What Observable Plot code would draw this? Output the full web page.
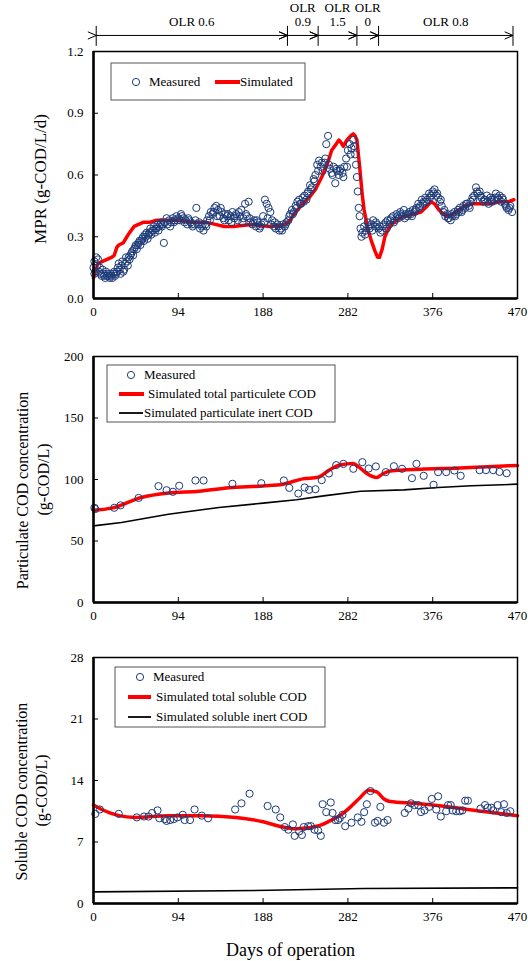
<!DOCTYPE html>
<html><head><meta charset="utf-8">
<script src="https://cdn.jsdelivr.net/npm/d3@7"></script>
<script src="https://cdn.jsdelivr.net/npm/@observablehq/plot@0.6"></script>
<style>
body{margin:0;background:#fff}
#c{width:528px;line-height:0;font-size:0}
#c svg{display:block}
</style>
</head><body><div id="c"></div>
<script>
// ---------- data ----------
const xTicks = [0, 94, 188, 282, 376, 470];
const olrBounds = [3, 215, 249, 292, 316, 465];
const olrLabels = ["OLR 0.6", "OLR\n0.9", "OLR\n1.5", "OLR\n0", "OLR 0.8"];

const mprTicks = [0, 0.3, 0.6, 0.9, 1.2];
const mprMeasured = [
 [0,.15],[1,.18],[1,.12],[2,.13],[3,.20],[4,.16],[5,.19],[6,.13],[7,.15],[8,.12],[9,.11],[10,.14],[11,.12],[12,.11],[13,.10],[14,.13],[15,.11],
 [16,.12],[17,.11],[18,.10],[19,.12],[20,.11],[21,.10],[22,.12],[23,.13],[24,.11],[25,.12],
 [26,.13],[27,.15],[28,.17],[29,.14],[30,.12],[31,.16],[32,.18],[33,.13],[34,.14],[35,.17],[36,.20],[37,.18],[38,.16],[39,.20],[40,.19],[41,.21],
 [42,.22],[43,.23],[44,.21],[45,.24],[46,.25],[47,.26],[48,.24],[49,.26],[50,.27],[51,.28],[52,.26],[53,.28],[54,.29],[55,.30],[56,.28],[57,.31],
 [58,.30],[59,.32],[60,.29],[61,.31],[62,.32],[63,.34],[64,.31],[65,.33],[66,.33],[67,.35],[68,.32],[69,.34],[70,.34],[71,.36],[72,.33],[73,.35],
 [74,.36],[75,.37],[76,.35],[77,.36],[78,.27],[79,.37],[81,.39],[82,.36],[84,.38],[85,.35],[86,.37],[88,.39],[89,.37],
 [90,.38],[92,.40],[93,.38],[94,.39],[96,.38],[97,.41],[98,.40],[100,.39],[101,.37],[102,.38],[104,.36],[105,.39],[106,.38],[108,.37],[109,.36],
 [110,.35],[112,.36],[113,.38],[114,.44],[116,.36],[117,.37],[118,.34],
 [120,.35],[121,.36],[122,.33],[124,.36],[125,.35],[126,.38],[128,.40],[129,.38],[130,.42],[132,.41],[133,.42],[134,.44],[136,.45],[137,.40],
 [138,.43],[140,.40],[141,.44],[142,.42],[144,.39],[145,.38],[146,.41],
 [148,.40],[149,.41],[150,.38],[152,.40],[153,.37],[154,.42],[156,.39],[157,.40],[158,.41],[160,.38],[161,.42],[162,.40],[164,.43],[165,.37],
 [166,.39],[168,.46],[169,.41],[170,.40],[172,.47],[173,.39],[174,.37],
 [176,.36],[177,.37],[178,.38],[180,.35],[181,.38],[182,.37],[184,.34],[185,.35],[186,.36],[188,.40],[189,.37],[190,.48],[192,.46],[193,.39],
 [194,.44],[196,.42],[197,.36],[198,.38],[200,.35],[201,.37],[202,.34],
 [204,.36],[205,.35],[206,.33],[208,.34],[209,.33],[210,.36],[212,.35],[213,.36],[214,.37],[216,.38],[217,.40],[218,.41],[220,.43],[221,.41],
 [222,.42],[224,.45],[225,.44],[226,.47],[228,.48],[229,.46],[230,.46],
 [232,.49],[233,.47],[234,.50],[236,.48],[237,.51],[238,.52],[240,.55],[241,.53],[242,.54],[244,.58],[245,.57],[246,.60],[248,.65],[249,.62],
 [250,.67],[252,.64],[253,.66],[254,.62],[256,.66],[257,.68],[258,.75],
 [260,.79],[261,.65],[262,.63],[264,.61],[265,.60],[266,.64],[268,.56],[269,.63],[270,.62],[272,.60],[273,.62],[274,.63],[276,.61],[277,.59],
 [278,.64],[280,.68],[281,.64],[282,.72],[284,.75],[285,.70],[286,.73],
 [288,.77],[289,.74],[290,.70],[291,.65],[292,.59],[293,.52],[294,.44],[295,.40],[296,.34],[297,.30],[298,.32],
 [300,.35],[301,.31],[302,.33],[304,.37],[305,.35],[306,.34],[308,.36],[309,.33],[310,.38],[312,.35],[313,.37],[314,.36],[316,.34],[317,.35],
 [318,.32],[320,.33],[321,.35],[322,.36],[324,.37],[325,.34],[326,.38],
 [328,.36],[329,.38],[330,.39],[332,.40],[333,.37],[334,.38],[336,.41],[337,.40],[338,.39],[340,.42],[341,.41],[342,.40],[344,.43],[345,.39],
 [346,.41],[348,.40],[349,.41],[350,.42],[352,.41],[353,.40],[354,.43],
 [356,.42],[357,.43],[358,.44],[360,.46],[361,.44],[362,.45],[364,.48],[365,.46],[366,.47],[368,.49],[369,.47],[370,.48],[372,.51],[373,.49],
 [374,.50],[376,.52],[377,.51],[378,.53],[380,.50],[381,.51],[382,.49],
 [384,.47],[385,.48],[386,.45],[388,.42],[389,.43],[390,.40],[392,.41],[393,.39],[394,.39],[396,.38],[397,.41],[398,.40],[400,.42],[401,.40],
 [402,.41],[404,.43],[405,.42],[406,.44],[408,.42],[409,.43],[410,.45],
 [412,.44],[413,.46],[414,.46],[416,.45],[417,.44],[418,.47],[420,.49],[421,.48],[422,.50],[424,.54],[425,.52],[426,.51],[428,.52],[429,.50],
 [430,.49],[432,.47],[433,.48],[434,.48],[436,.50],[437,.47],[438,.46],
 [440,.49],[441,.48],[442,.47],[444,.48],[445,.49],[446,.51],[448,.49],[449,.48],[450,.50],[452,.47],[453,.49],[454,.48],[456,.46],[457,.45],
 [458,.44],[460,.43],[461,.44],[462,.45],[464,.42]
];
const mprSimulated = [
 [0,.10],[2,.13],[5,.17],[10,.18],[15,.19],[20,.20],[23,.21],[26,.25],[28,.26],[33,.27],[37,.30],[40,.32],[45,.35],[50,.36],[55,.37],[62,.37],
 [70,.38],[80,.38],[94,.38],[110,.37],[125,.37],[135,.36],[145,.35],[155,.35],[165,.355],[175,.36],[185,.355],[195,.35],[205,.355],[212,.36],
 [218,.38],[224,.42],[230,.45],[239,.49],[246,.53],[253,.59],[259,.65],[264,.72],[269,.75],[272,.77],[274,.76],[277,.74],[281,.77],[285,.79],
 [288,.80],[290,.79],[292,.77],[295,.64],[298,.50],[300,.43],[304,.34],[308,.28],[312,.23],[315,.20],[317,.20],[320,.24],[323,.30],[326,.33],
 [330,.36],[336,.38],[345,.40],[355,.41],[363,.42],[370,.45],[374,.47],[378,.46],[383,.43],[388,.41],[392,.40],[398,.41],[405,.43],[412,.45],
 [420,.46],[431,.46],[440,.46],[450,.47],[460,.47],[466,.48]
];

const pcodTicks = [0, 50, 100, 150, 200];
const pcodMeasured = [
 [1,77],[2,76],[23,77],[30,79],[50,85],[72,94.6],[81,91.3],[88,90],[95,94.9],[113,99.2],[122,99.2],[154,96.5],[186,97],[211,99.2],[217,93.2],
 [227,88.6],[234,93.5],[239,91.6],[246,92.1],[253,99.5],[261,104.9],[269,111.7],[277,112.7],[288,108.7],[298,114.1],[305,108.9],[313,110.6],
 [324,106],[333,110.8],[342,108.7],[353,101.1],[358,112.7],[366,103],[377,95.7],[382,106],[391,106],[400,107.3],[407,103],[428,107.6],[435,107.6],
 [443,107.6],[450,106.2],[458,105.1]
];
const pcodTotal = [
 [0,75],[20,76.7],[53,85.4],[83,89],[117,90.5],[150,93.3],[188,94.8],[210,96.2],[232,100.5],[249,101.8],[262,108],[273,111.8],[288,113],[294,110.3],
 [303,104.9],[314,101.6],[320,104.3],[329,107],[363,108.4],[400,109.2],[437,110.3],[470,111.4]
];
const pcodInert = [
 [0,62.3],[31,65],[83,71.8],[139,77.2],[188,80.8],[225,83.5],[255,86.7],[296,90.5],[344,91.6],[382,93.5],[419,94.9],[470,96.2]
];

const scodTicks = [0, 7, 14, 21, 28];
const scodMeasured = [
 [2,10.2],[7,10.7],[28,10.2],[48,9.8],[56,9.9],[61,9.9],[65,10.3],[71,10.6],[73,9.7],[79,9.6],[81,9.4],[85,9.5],[89,9.6],[93,9.8],[99,10.1],
 [101,9.5],[107,9.5],[112,10.7],[120,10.0],[127,9.7],[157,10.7],[164,11.4],[173,12.5],[193,11.1],[202,10.7],[207,9.8],[212,8.7],[216,8.4],
 [221,9.0],[223,7.7],[228,8.2],[231,7.8],[233,8.7],[238,8.8],[241,8.8],[245,8.4],[249,8.3],[252,7.7],[254,11.3],[258,10.4],[263,11.5],[265,10.3],
 [268,9.5],[271,9.5],[273,9.7],[276,10.1],[279,8.8],[286,9.2],[293,9.8],[297,9.3],[300,10.4],[303,11.3],[307,12.8],[312,9.2],[315,9.4],[318,11.0],
 [322,9.2],[326,9.5],[345,10.3],[349,10.8],[352,11.4],[356,11.2],[360,11.2],[363,10.4],[367,10.6],[372,11.0],[375,11.9],[380,10.7],[382,12.2],
 [385,9.9],[391,10.5],[393,11.2],[396,11.2],[398,10.6],[402,10.5],[406,10.5],[409,10.6],[412,11.7],[415,11.7],[429,10.8],[434,11.2],[437,10.9],
 [441,10.9],[443,10.6],[448,11.2],[452,10.4],[455,11.3],[458,10.3],[462,10.5]
];
const scodTotal = [
 [0,11.2],[9,10.7],[46,9.8],[83,10.0],[120,10.0],[158,9.8],[188,9.3],[210,8.7],[225,8.5],[251,8.9],[262,9.4],[273,10.0],[285,11.0],[296,12.1],
 [305,12.9],[314,12.7],[322,11.9],[329,11.6],[355,11.4],[393,11.0],[430,10.5],[470,10.0]
];
const scodInert = [[0,1.32],[195,1.5],[300,1.7],[470,1.78]];

// ---------- styling ----------
const FONT = "Liberation Serif, Times New Roman, serif";
const NAVY = "#1c3a78";
const RED = "#ff0000";

function panel({height, marginTop, marginBottom, yDomain, yTicks, yFormat, marks}) {
  return Plot.plot({
    width: 528, height, marginLeft: 93, marginRight: 11, marginTop, marginBottom,
    x: {domain: [0, 470]},
    y: {domain: yDomain},
    style: {fontFamily: FONT, fontSize: "13px", background: "#fff", color: "#000", overflow: "visible"},
    marks: [
      ...marks,
      Plot.axisX(xTicks, {tickSize: 0, tickPadding: 8, label: null, fontSize: 13}),
      Plot.axisX(xTicks, {tickSize: -5, text: null, label: null}),
      Plot.axisY(yTicks, {tickSize: 0, tickPadding: 10, tickFormat: yFormat, label: null, fontSize: 13}),
      Plot.axisY(yTicks, {tickSize: -5, text: null, label: null}),
      Plot.frame({stroke: "#000", strokeWidth: 1.5}),
      Plot.ruleX([0], {stroke: "#000", strokeWidth: 2.5}),
      Plot.ruleY([yDomain[0]], {stroke: "#000", strokeWidth: 2.5})
    ]
  });
}

const X = d => d[0], Y = d => d[1];
const segments = olrLabels.map((t, i) => ({x1: olrBounds[i], x2: olrBounds[i + 1], label: t}));
const vTitle = (t, dx, dy, size) => Plot.text([t], {frameAnchor: "left", textAnchor: "middle", lineAnchor: "middle", rotate: -90, dx, dy, fontSize: size, fill: "#000"});

const p1 = panel({
  height: 330, marginTop: 51, marginBottom: 32, yDomain: [0, 1.2], yTicks: mprTicks, yFormat: d3.format(".1f"),
  marks: [
    Plot.line(mprSimulated, {x: X, y: Y, stroke: RED, strokeWidth: 3.5}),
    Plot.dot(mprMeasured, {x: X, y: Y, r: 3.6, stroke: NAVY, strokeWidth: 1, fill: "none"}),
    Plot.ruleX(olrBounds, {y1: 1.225, y2: 1.322, stroke: "#000", strokeWidth: 1}),
    Plot.link(segments, {x1: "x1", x2: "x2", y1: 1.278, y2: 1.278, stroke: "#000", strokeWidth: 1, markerStart: "arrow", markerEnd: "arrow"}),
    Plot.text(segments, {x: d => (d.x1 + d.x2) / 2, y: 1.325, text: "label", lineAnchor: "bottom", lineHeight: 1.05, fontSize: 13, fill: "#000"}),
    vTitle("MPR (g-COD/L/d)", -53, 4, 17)
  ]
});

const p2 = panel({
  height: 300, marginTop: 26, marginBottom: 28, yDomain: [0, 200], yTicks: pcodTicks,
  marks: [
    Plot.line(pcodInert, {x: X, y: Y, stroke: "#000", strokeWidth: 1.6}),
    Plot.line(pcodTotal, {x: X, y: Y, stroke: RED, strokeWidth: 3.5, curve: "monotone-x"}),
    Plot.dot(pcodMeasured, {x: X, y: Y, r: 3.6, stroke: NAVY, strokeWidth: 1, fill: "none"}),
    vTitle("Particulate COD concentration", -71, 11, 16),
    vTitle("(g-COD/L)", -50, 0, 16)
  ]
});

const p3 = panel({
  height: 331, marginTop: 27, marginBottom: 58, yDomain: [0, 28], yTicks: scodTicks,
  marks: [
    Plot.line(scodInert, {x: X, y: Y, stroke: "#000", strokeWidth: 1.6}),
    Plot.line(scodTotal, {x: X, y: Y, stroke: RED, strokeWidth: 3.5, curve: "monotone-x"}),
    Plot.dot(scodMeasured, {x: X, y: Y, r: 3.6, stroke: NAVY, strokeWidth: 1, fill: "none"}),
    vTitle("Soluble COD concentration", -72, 11, 16),
    vTitle("(g-COD/L)", -52, 10, 16),
    Plot.text(["Days of operation"], {frameAnchor: "bottom", textAnchor: "middle", lineAnchor: "middle", dx: -15, dy: 47, fontSize: 18, fill: "#000"})
  ]
});

// ---------- legends (overlay) ----------
function legend(svgNode, box, items) {
  const svg = d3.select(svgNode);
  const g = svg.append("g").attr("font-family", FONT).attr("font-size", 13).attr("text-anchor", "start");
  g.append("rect").attr("x", box[0]).attr("y", box[1]).attr("width", box[2]).attr("height", box[3])
    .attr("fill", "#fff").attr("stroke", "#555").attr("stroke-width", 1);
  for (const it of items) {
    if (it.type === "dot") {
      g.append("circle").attr("cx", it.sx).attr("cy", it.y).attr("r", 3.6).attr("fill", "none").attr("stroke", NAVY);
    } else {
      g.append("line").attr("x1", it.sx).attr("x2", it.ex).attr("y1", it.y).attr("y2", it.y)
        .attr("stroke", it.color).attr("stroke-width", it.w);
    }
    g.append("text").attr("x", it.tx).attr("y", it.y).attr("dy", "0.32em").attr("text-anchor", "start").attr("fill", "#000").text(it.text);
  }
}
legend(p1, [111, 63, 194, 37], [
  {type: "dot", sx: 136, y: 82, tx: 149, text: "Measured"},
  {type: "line", sx: 215, ex: 240, y: 82, color: RED, w: 4, tx: 240, text: "Simulated"}
]);
legend(p2, [107, 35, 228, 57], [
  {type: "dot", sx: 131, y: 45, tx: 144, text: "Measured"},
  {type: "line", sx: 119, ex: 144, y: 64, color: RED, w: 4, tx: 148, text: "Simulated total particulete COD"},
  {type: "line", sx: 119, ex: 143, y: 83, color: "#000", w: 1.8, tx: 144, text: "Simulated particulate inert COD"}
]);
legend(p3, [115, 37, 210, 60], [
  {type: "dot", sx: 140, y: 47, tx: 153, text: "Measured"},
  {type: "line", sx: 128, ex: 151, y: 67, color: RED, w: 4, tx: 156, text: "Simulated total soluble COD"},
  {type: "line", sx: 128, ex: 151, y: 87, color: "#000", w: 1.8, tx: 156, text: "Simulated soluble inert COD"}
]);

// enlarge arrowheads of OLR annotation
d3.select(p1).selectAll("marker")
  .attr("viewBox", "-9 -5 10 10").attr("markerWidth", 10).attr("markerHeight", 10)
  .selectAll("path").attr("d", "M-8,-3.5L0,0L-8,3.5").attr("stroke-width", 1);

const c = document.getElementById("c");
c.append(p1, p2, p3);
</script>
</body></html>
